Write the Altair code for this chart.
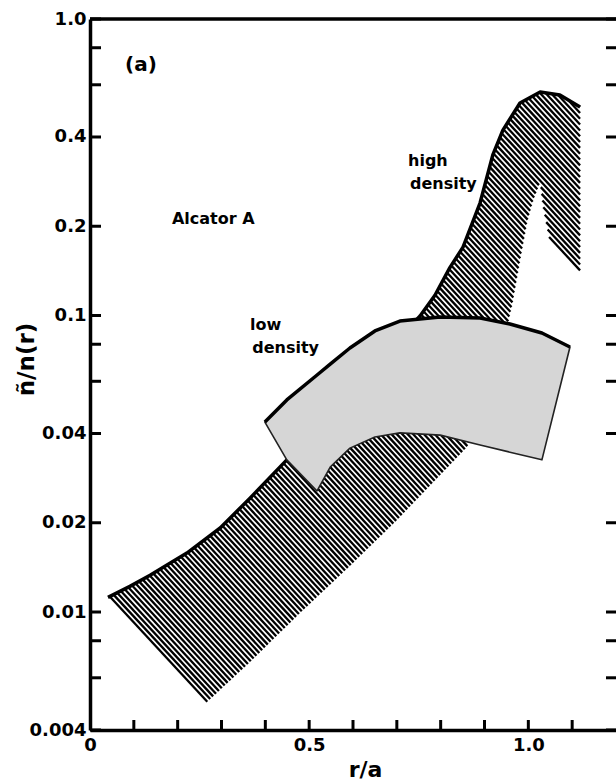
import math
import altair as alt
import pandas as pd

# ---------------- data ----------------
x_tick_vals = [0.1, 0.2, 0.3, 0.4, 0.5, 0.6, 0.7, 0.8, 0.9, 1.0, 1.1]
x_label_vals = [0, 0.5, 1.0]
y_tick_vals = [1.0, 0.8, 0.6, 0.4, 0.2, 0.1, 0.08, 0.06, 0.04, 0.02, 0.01, 0.008, 0.006, 0.004]
y_label_vals = [1.0, 0.4, 0.2, 0.1, 0.04, 0.02, 0.01, 0.004]

# high density band (hatched): upper and lower boundaries
hd_upper_x = [0.041, 0.091, 0.137, 0.221, 0.297, 0.365, 0.449, 0.525, 0.605, 0.684, 0.753,
              0.787, 0.821, 0.851, 0.890, 0.919, 0.942, 0.981, 1.027, 1.072, 1.118]
hd_upper_y = [0.0112, 0.0122, 0.0133, 0.0158, 0.0192, 0.0242, 0.0326, 0.0427, 0.0583, 0.0777, 0.0996,
              0.117, 0.145, 0.170, 0.240, 0.348, 0.422, 0.521, 0.567, 0.554, 0.505]
hd_lower_x = [0.041, 0.267, 0.365, 0.479, 0.593, 0.700, 0.799, 0.860, 0.913, 0.947, 0.963,
              0.981, 0.997, 1.011, 1.027, 1.034, 1.050, 1.118]
hd_lower_y = [0.0112, 0.00497, 0.00678, 0.00992, 0.0143, 0.0204, 0.0290, 0.0360, 0.0561, 0.0859, 0.109,
              0.154, 0.207, 0.245, 0.282, 0.232, 0.176, 0.139]

# low density band (stippled)
ld_x = [0.399, 0.449, 0.518, 0.548, 0.593, 0.650, 0.707, 0.799, 0.890, 0.958, 1.031, 1.095]
ld_upper = [0.0437, 0.0519, 0.0630, 0.0686, 0.0777, 0.0887, 0.0958, 0.0988, 0.0981, 0.0936, 0.0873, 0.0783]
ld_lower = [0.0437, 0.0326, 0.0256, 0.0308, 0.0357, 0.0389, 0.0402, 0.0395, 0.0366, 0.0346, 0.0326, 0.0783]

notes_text = ["Alcator A", "high", "density", "low", "density"]
notes_x = [0.187, 0.7255, 0.730, 0.365, 0.370]
notes_y = [0.2035, 0.319, 0.267, 0.0894, 0.0747]
panel_text = ["(a)"]
panel_x = [0.080]
panel_y = [0.668]

# ---------------- chart geometry ----------------
W, H = 526, 711
XMIN, XMAX = 0.0, 1.2
YMIN, YMAX = 0.004, 1.0
LSPAN = math.log10(YMAX) - math.log10(YMIN)
FONT = "DejaVu Sans"


def to_uv(x, y):
    return (x - XMIN) / (XMAX - XMIN) * W, (math.log10(y) - math.log10(YMIN)) / LSPAN * H


def from_uv(u, v):
    return XMIN + u / W * (XMAX - XMIN), 10 ** (math.log10(YMIN) + v / H * LSPAN)


# hatch lines ("\" direction) clipped to the high density polygon
poly = [to_uv(x, y) for x, y in zip(hd_upper_x, hd_upper_y)]
poly += [to_uv(x, y) for x, y in zip(reversed(hd_lower_x), reversed(hd_lower_y))]
S = 1.08          # slope of hatch lines in screen space
HSPACE = 5.4      # horizontal spacing of hatch lines (px)
f = [S * u + v for u, v in poly]
cmin, cmax = min(f), max(f)
rows = []
c = cmin + HSPACE * S * 0.5
while c < cmax:
    pts = []
    n = len(poly)
    for i in range(n):
        (u1, v1), (u2, v2) = poly[i], poly[(i + 1) % n]
        f1, f2 = f[i], f[(i + 1) % n]
        if (f1 <= c < f2) or (f2 <= c < f1):
            t = (c - f1) / (f2 - f1)
            pts.append((u1 + t * (u2 - u1), v1 + t * (v2 - v1)))
    pts.sort()
    for k in range(0, len(pts) - 1, 2):
        xa, ya = from_uv(*pts[k])
        xb, yb = from_uv(*pts[k + 1])
        rows.append({"x": xa, "y": ya, "x2": xb, "y2": yb})
    c += HSPACE * S
hatch_df = pd.DataFrame(rows)

hd_up_df = pd.DataFrame({"x": hd_upper_x, "y": hd_upper_y})
ld_df = pd.DataFrame({"x": ld_x, "y": ld_upper, "y2": ld_lower})
ld_up_df = pd.DataFrame({"x": ld_x, "y": ld_upper})
notes_df = pd.DataFrame({"x": notes_x, "y": notes_y, "t": notes_text})
panel_df = pd.DataFrame({"x": panel_x, "y": panel_y, "t": panel_text})
xt_df = pd.DataFrame({"x": x_tick_vals})
yt_df = pd.DataFrame({"y": y_tick_vals})

xs = alt.Scale(type="linear", domain=[XMIN, XMAX], nice=False, zero=False)
ys = alt.Scale(type="log", domain=[YMIN, YMAX], nice=False)

xaxis = alt.Axis(
    values=x_label_vals, ticks=False, tickSize=0, grid=False, domain=True,
    domainColor="black", domainWidth=3.5, labelFont=FONT, labelFontSize=18,
    labelFontWeight="bold", labelColor="black", labelPadding=6, labelFlush=False,
    labelOverlap=False, labelExpr="datum.value == 0 ? '0' : format(datum.value, '.1f')",
    title="r/a", titleFont=FONT, titleFontSize=22, titleFontWeight="bold",
    titleColor="black", titleX=275, titleY=46, titleBaseline="alphabetic",
)
yaxis = alt.Axis(
    values=y_label_vals, ticks=False, tickSize=0, grid=False, domain=True,
    domainColor="black", domainWidth=3.5, labelFont=FONT, labelFontSize=18,
    labelFontWeight="bold", labelColor="black", labelPadding=4, labelOverlap=False,
    labelBaseline="middle",
    labelExpr="datum.value == 1 ? '1.0' : format(datum.value, '~g')",
    title="ñ/n(r)", titleFont=FONT, titleFontSize=23, titleFontWeight="bold",
    titleColor="black", titleAngle=270, titleX=-64, titleY=340,
    titleAlign="center", titleBaseline="middle",
)


def X(field="x"):
    return alt.X(f"{field}:Q", scale=xs, axis=xaxis)


def Y(field="y"):
    return alt.Y(f"{field}:Q", scale=ys, axis=yaxis)


hatch = alt.Chart(hatch_df).mark_rule(color="black", strokeWidth=2.3, strokeCap="butt").encode(
    x=X(), y=Y(), x2="x2:Q", y2="y2:Q"
)
hd_line = alt.Chart(hd_up_df).mark_line(color="black", strokeWidth=3.5, strokeJoin="round").encode(
    x=X(), y=Y()
)
ld_area = alt.Chart(ld_df).mark_area(
    color="#d6d6d6", opacity=1, stroke="#222222", strokeWidth=1.6, strokeJoin="round"
).encode(x=X(), y=Y(), y2="y2:Q")
ld_line = alt.Chart(ld_up_df).mark_line(color="black", strokeWidth=3.5, strokeJoin="round").encode(
    x=X(), y=Y()
)

left_ticks = alt.Chart(yt_df).mark_rule(color="black", strokeWidth=3, strokeCap="butt").encode(
    y=Y(), x=alt.value(0), x2=alt.value(11)
)
right_ticks = alt.Chart(yt_df).mark_rule(color="black", strokeWidth=3, strokeCap="butt").encode(
    y=Y(), x=alt.value(W - 10), x2=alt.value(W)
)
bottom_ticks = alt.Chart(xt_df).mark_rule(color="black", strokeWidth=3, strokeCap="butt").encode(
    x=X(), y=alt.value(H), y2=alt.value(H - 10)
)
top_line = alt.Chart(pd.DataFrame({"k": [0]})).mark_rule(color="black", strokeWidth=3.5).encode(
    x=alt.value(0), x2=alt.value(W), y=alt.value(0)
)

notes = alt.Chart(notes_df).mark_text(
    align="left", baseline="alphabetic", font=FONT, fontSize=16, fontWeight="bold", color="black"
).encode(x=X(), y=Y(), text="t:N")
panel = alt.Chart(panel_df).mark_text(
    align="left", baseline="alphabetic", font=FONT, fontSize=20, fontWeight="bold", color="black"
).encode(x=X(), y=Y(), text="t:N")

chart = alt.layer(
    hatch, hd_line, ld_area, ld_line, left_ticks, right_ticks, bottom_ticks, top_line, notes, panel
).properties(
    width=W, height=H,
    autosize=alt.AutoSizeParams(type="none"),
    padding={"left": 90, "top": 19, "right": 0, "bottom": 54},
    background="white",
).configure_view(stroke="transparent")

chart.save("out.html", embed_options={"renderer": "svg", "actions": False})
